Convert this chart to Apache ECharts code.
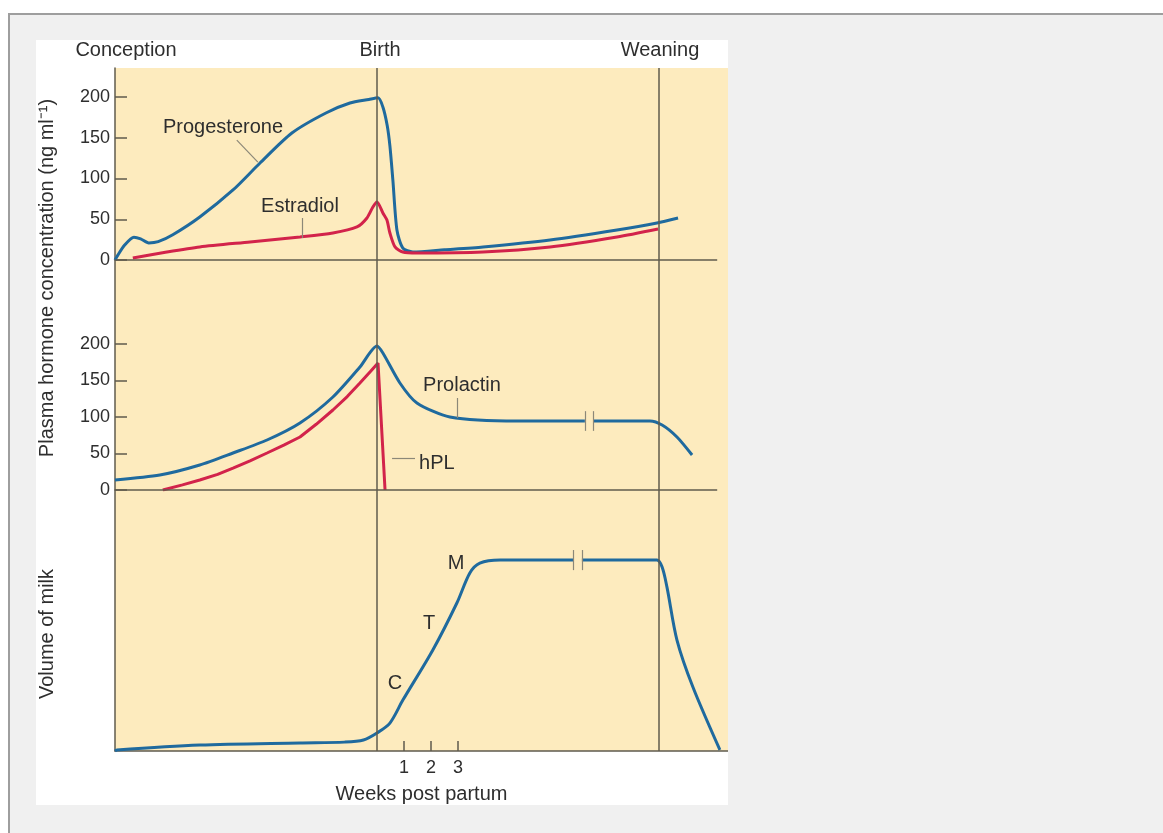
<!DOCTYPE html>
<html>
<head>
<meta charset="utf-8">
<script src="https://cdn.jsdelivr.net/npm/echarts@6/dist/echarts.min.js"></script>
<style>
    body { margin: 0; background: #fff; font-family: "Liberation Sans", Arial, sans-serif; }
    #frame { position: absolute; left: 8px; top: 13px; width: 1155px; height: 820px;
             background: #f0f0f0; border-top: 2px solid #9e9e9e; border-left: 2px solid #9e9e9e; }
    #chart { position: absolute; left: 36px; top: 40px; width: 692px; height: 765px; background: #fff; }
</style>
</head>
<body>
<div id="frame"></div>
<div id="chart"></div>
<script>
// x is in "weeks" relative to birth (schematic scale, birth = 0)
let xMin = -9.7;
let xMax = 13.0;
let weaning = 10.44;
let weekTicks = [1, 2, 3];
let hormoneTicks = [0, 50, 100, 150, 200];

let progesterone = [[-9.7, 0], [-9.63, 4], [-9.35, 18], [-9.0, 28], [-8.75, 26], [-8.45, 21], [-8.1, 22.5], [-7.56, 31],
    [-6.56, 52.8], [-5.33, 85.9], [-4.33, 119], [-3.15, 155.8], [-1.89, 180.4], [-1.0, 192.6], [-0.3, 197], [0.04, 199],
    [0.22, 187.7], [0.38, 165], [0.48, 140], [0.59, 98], [0.74, 36.8], [0.96, 14.7], [1.33, 9.8], [2.5, 12.5],
    [3.93, 16], [6.41, 24.5], [8.89, 36.8], [10.37, 45.4], [11.15, 51.5]];
let estradiol = [[-9.04, 2.5], [-7.78, 9.8], [-6.56, 16], [-4.70, 22.1], [-2.85, 28.2], [-1.63, 33.1], [-0.74, 40.5],
    [-0.37, 51.5], [-0.15, 65], [0, 71.2], [0.22, 57.7], [0.37, 49], [0.48, 33.1], [0.67, 16], [0.96, 9.8],
    [1.48, 8.6], [3.93, 9.8], [6.41, 16], [8.89, 28.2], [10.41, 38]];
let prolactin = [[-9.7, 13.7], [-8.04, 20.5], [-6.56, 34.2], [-5.33, 50.7], [-4.07, 68.5], [-2.85, 91.8], [-1.63, 127.4],
    [-0.63, 168.5], [0, 197.3], [0.22, 187.7], [0.85, 146.6], [1.48, 119.2], [2.70, 100], [5.19, 94.5], [7.70, 94.5],
    [7.85, null], [8.0, 94.5], [10.11, 94.5], [10.56, 89], [11.11, 72.6], [11.67, 47.9]];
let hpl = [[-7.93, 0], [-7.2, 7], [-6.56, 13.7], [-5.9, 21.5], [-5.33, 30.1], [-4.7, 40], [-4.07, 50.7], [-3.45, 61.5],
    [-2.85, 72.6], [-2.25, 90], [-1.63, 109.6], [-1.1, 128], [-0.63, 146.6], [-0.25, 162], [0.04, 174], [0.30, 0]];
let milk = [[-9.7, 0], [-9.63, 0.4], [-6.56, 2.3], [-2.85, 3.1], [-1.2, 3.4], [-0.5, 4.2], [0, 6.9], [0.48, 10.7], [0.96, 19.5],
    [2.07, 38.7], [2.96, 56.7], [3.44, 68.2], [3.81, 72], [4.56, 73.2], [7.26, 73.2], [7.42, null], [7.59, 73.2],
    [10.37, 73.2], [10.56, 70.5], [10.74, 62.8], [11.11, 42.5], [11.70, 24.5], [12.70, 0.4]];

// text annotations: [grid, x, y, text]
let notes = [[0, -5.70, 163, 'Progesterone'], [0, -2.85, 66, 'Estradiol'],
    [1, 3.15, 142.5, 'Prolactin'], [1, 2.22, 37, 'hPL'],
    [2, 0.67, 26, 'C'], [2, 1.93, 48.7, 'T'], [2, 2.93, 72, 'M']];
// leader lines and break marks: [grid, x1, y1, x2, y2]
let leaders = [[0, -5.19, 147, -4.41, 120], [0, -2.78, 51.5, -2.78, 27],
    [1, 2.96, 126, 2.96, 98.6], [1, 0.56, 43.8, 1.41, 43.8],
    [1, 7.70, 108, 7.70, 81], [1, 8.0, 108, 8.0, 81],
    [2, 7.26, 77, 7.26, 69.3], [2, 7.59, 77, 7.59, 69.3]];

let axisColor = '#5f5b4d';
let blue = '#1f6a9e';
let red = '#d2234b';
let txt = '#2e2e2e';
let font = '"Liberation Sans", Arial, sans-serif';

let myChart = echarts.init(document.getElementById('chart'));

function xAxisFor(i) {
    let bottom = i === 2;
    return {
        type: 'value', gridIndex: i, min: xMin, max: xMax,
        splitLine: {show: false},
        axisLine: {show: bottom, onZero: false, lineStyle: {color: axisColor, width: 1.5}},
        axisTick: {show: bottom, inside: true, length: 10, customValues: weekTicks, lineStyle: {color: axisColor, width: 1.5}},
        axisLabel: {show: bottom, customValues: weekTicks, margin: 8, fontSize: 18, color: txt, fontFamily: font},
        name: bottom ? 'Weeks post partum' : '',
        nameLocation: 'middle', nameGap: 33,
        nameTextStyle: {fontSize: 20, color: txt, fontFamily: font}
    };
}

function yAxisFor(i, max) {
    let hormone = i < 2;
    return {
        type: 'value', gridIndex: i, min: 0, max: max,
        splitLine: {show: false},
        axisLine: {show: true, onZero: false, lineStyle: {color: axisColor, width: 1.5}},
        axisTick: {show: hormone, inside: true, length: 12, customValues: hormoneTicks, lineStyle: {color: axisColor, width: 1.5}},
        axisLabel: {show: hormone, customValues: hormoneTicks, margin: 5, fontSize: 18, color: txt, fontFamily: font}
    };
}

function curve(name, data, color, i, smooth) {
    return {
        name: name, type: 'line', xAxisIndex: i, yAxisIndex: i, data: data,
        smooth: smooth, showSymbol: false, connectNulls: false,
        lineStyle: {color: color, width: 3}, z: 3
    };
}

// vertical Birth/Weaning lines plus the zero baseline of the hormone panels
function frame(i) {
    let lines = [{xAxis: 0}, {xAxis: weaning}];
    if (i < 2) lines.push([{coord: [xMin, 0]}, {coord: [12.6, 0]}]);
    let segs = leaders.filter(l => l[0] === i).map(l => [
        {coord: [l[1], l[2]], lineStyle: {color: '#8c8878', width: 1.2}},
        {coord: [l[3], l[4]]}
    ]);
    return {
        type: 'scatter', xAxisIndex: i, yAxisIndex: i, symbolSize: 0, silent: true,
        itemStyle: {opacity: 1},
        data: notes.filter(n => n[0] === i).map(n => ({value: [n[1], n[2]], name: n[3]})),
        label: {show: true, position: 'inside', formatter: '{b}', fontSize: 20, color: txt, fontFamily: font,
            textBorderWidth: 0, textBorderColor: 'transparent'},
        markLine: {
            silent: true, symbol: 'none', label: {show: false}, animation: false,
            lineStyle: {color: axisColor, width: 1.5, type: 'solid'},
            data: lines.concat(segs)
        },
        z: 4
    };
}

let grids = [
    {left: 79, width: 613, top: 28, height: 192},
    {left: 79, width: 613, top: 220, height: 230},
    {left: 79, width: 613, top: 450, height: 261}
].map(g => Object.assign(g, {show: true, backgroundColor: '#fdebbe', borderWidth: 0}));

let headStyle = {font: '20px ' + font, fill: txt, align: 'center', verticalAlign: 'middle'};

option = {
    animation: false,
    grid: grids,
    xAxis: [xAxisFor(0), xAxisFor(1), xAxisFor(2)],
    yAxis: [yAxisFor(0, 192 / 0.815), yAxisFor(1, 230 / 0.73), yAxisFor(2, 100)],
    graphic: [
        {type: 'text', x: 90, y: 10, style: Object.assign({text: 'Conception'}, headStyle)},
        {type: 'text', x: 344, y: 10, style: Object.assign({text: 'Birth'}, headStyle)},
        {type: 'text', x: 624, y: 10, style: Object.assign({text: 'Weaning'}, headStyle)},
        {type: 'text', x: 11, y: 238, rotation: Math.PI / 2,
            style: Object.assign({text: 'Plasma hormone concentration (ng ml\u207B\u00B9)'}, headStyle)},
        {type: 'text', x: 11, y: 594, rotation: Math.PI / 2,
            style: Object.assign({text: 'Volume of milk'}, headStyle)}
    ],
    series: [
        curve('Progesterone', progesterone, blue, 0, 0.25),
        curve('Estradiol', estradiol, red, 0, 0.25),
        curve('Prolactin', prolactin, blue, 1, 0.25),
        curve('hPL', hpl, red, 1, false),
        curve('Milk', milk, blue, 2, 0.3),
        frame(0), frame(1), frame(2)
    ]
};
myChart.setOption(option);
</script>
</body>
</html>
